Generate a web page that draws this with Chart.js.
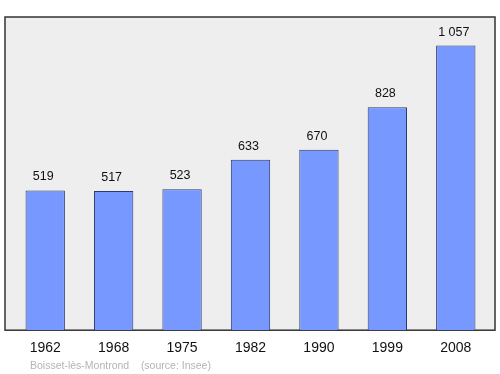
<!DOCTYPE html>
<html><head><meta charset="utf-8">
<script src="https://cdn.jsdelivr.net/npm/chart.js@4"></script>
<style>html,body{margin:0;padding:0;background:#fff;}canvas{display:block;}</style>
</head><body>
<canvas id="c" width="500" height="374"></canvas>
<script>
const years = ["1962","1968","1975","1982","1990","1999","2008"];
const population = [519,517,523,633,670,828,1057];
const valueLabels = ["519","517","523","633","670","828","1 057"];
const sourceText = "Boisset-lès-Montrond    (source: Insee)";

const FONT = "'Liberation Sans', Arial, sans-serif";

const decor = {
  id: 'decor',
  beforeDraw(chart) {
    const {ctx, chartArea: a} = chart;
    ctx.save();
    ctx.fillStyle = '#eeeeee';
    ctx.strokeStyle = '#333333';
    ctx.lineWidth = 1.5;
    const x0 = a.left - 6, x1 = a.right + 5, y0 = a.top, y1 = a.bottom;
    ctx.fillRect(x0, y0, x1 - x0, y1 - y0);
    ctx.strokeRect(x0, y0, x1 - x0, y1 - y0);
    ctx.restore();
  },
  afterDatasetsDraw(chart) {
    const {ctx} = chart;
    const meta = chart.getDatasetMeta(0);
    ctx.save();
    ctx.font = "12.5px " + FONT;
    ctx.fillStyle = '#111';
    ctx.textAlign = 'center';
    ctx.textBaseline = 'alphabetic';
    meta.data.forEach((bar, i) => {
      ctx.fillText(valueLabels[i], bar.x - 2, bar.y - 10);
    });
    ctx.font = "10.5px " + FONT;
    ctx.fillStyle = '#b4b4b4';
    ctx.textAlign = 'left';
    ctx.fillText(sourceText, 30, 369);
    ctx.restore();
  }
};

new Chart(document.getElementById('c'), {
  type: 'bar',
  data: {
    labels: years,
    datasets: [{
      data: population,
      backgroundColor: '#7799ff',
      borderColor: '#2b3a6b',
      borderWidth: 1,
      categoryPercentage: 1,
      barPercentage: 0.575
    }]
  },
  options: {
    responsive: false,
    animation: false,
    layout: {padding: {top: 17, left: 11, right: 10, bottom: 7}},
    plugins: {legend: {display: false}, tooltip: {enabled: false}},
    scales: {
      x: {
        grid: {display: false, drawTicks: false},
        border: {display: false},
        ticks: {color: '#111', font: {family: FONT, size: 14}, padding: 10, maxRotation: 0}
      },
      y: {display: false, min: 0, max: 1163}
    }
  },
  plugins: [decor]
});
</script>
</body></html>
